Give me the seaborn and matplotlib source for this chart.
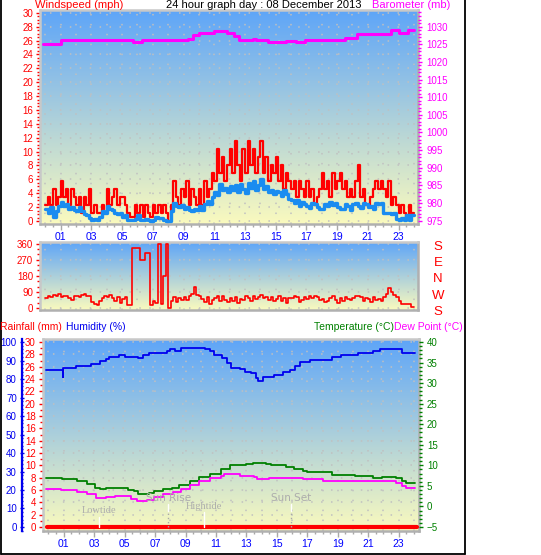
import numpy as np
import pandas as pd
import matplotlib
matplotlib.use("Agg")
import matplotlib.pyplot as plt
import seaborn as sns
from matplotlib.colors import LinearSegmentedColormap
from matplotlib.ticker import MultipleLocator
import matplotlib.transforms as mtransforms
from matplotlib.lines import Line2D

# ---------------- data ----------------
title = "24 hour graph day : 08 December 2013"
hour_labels = ["01", "03", "05", "07", "09", "11", "13", "15", "17", "19", "21", "23"]
sample_minutes = 10  # wind series are 10-minute samples starting at 00:00

wind_gust = [
    2.3, 3.5, 2.3, 4.6, 2.3, 3.5,
    5.8, 3.5, 4.6, 2.3, 4.6, 3.5,
    2.3, 3.5, 1.2, 3.5, 2.3, 4.6,
    1.2, 2.3, 1.2, 1.2, 2.3, 1.2,
    4.6, 2.3, 3.5, 4.6, 2.3, 3.5,
    3.5, 2.3, 1.2, 0.6, 0.6, 2.3,
    1.2, 2.3, 0.6, 2.3, 1.2, 0.6,
    2.3, 1.2, 2.3, 1.2, 2.3, 1.2,
    0.0, 2.3, 5.8, 3.5, 2.3, 4.6,
    3.5, 5.8, 2.3, 4.6, 3.5, 2.3,
    4.6, 2.3, 5.8, 3.5, 4.6, 6.9,
    5.8, 10.4, 6.9, 9.2, 5.8, 8.1,
    10.4, 6.9, 11.5, 8.1, 5.8, 10.4,
    6.9, 11.5, 8.1, 10.4, 6.9, 9.2,
    11.5, 6.9, 9.2, 5.8, 8.1, 6.9,
    9.2, 5.8, 8.1, 4.6, 6.9, 5.8,
    4.6, 5.8, 3.5, 5.8, 4.6, 3.5,
    5.8, 3.5, 4.6, 2.3, 3.5, 4.6,
    6.9, 4.6, 5.8, 3.5, 6.9, 4.6,
    5.8, 6.9, 4.6, 5.8, 3.5, 4.6,
    3.5, 5.8, 8.1, 3.5, 4.6, 2.3,
    2.3, 3.5, 4.6, 5.8, 4.6, 5.8,
    4.6, 3.5, 5.8, 2.3, 3.5, 2.3,
    1.2, 2.3, 1.2, 0.6, 2.3, 1.2,
]

wind_avg = [
    1.8, 1.2, 2.0, 0.6, 1.5, 2.2,
    2.8, 2.2, 2.5, 1.8, 2.0, 1.6,
    1.5, 2.0, 1.4, 1.0, 0.8, 0.4,
    0.2, 0.3, 0.2, 0.6, 1.5, 1.2,
    2.2, 1.8, 1.6, 1.2, 1.0, 1.1,
    0.6, 0.9, 0.2, 0.1, 0.1, 0.3,
    0.9, 0.2, 0.1, 0.3, 0.1, 0.0,
    0.2, 0.6, 0.5, 0.4, 0.2, 0.0,
    0.0, 1.5, 2.6, 2.2, 2.0, 2.3,
    1.8, 2.0, 1.6, 1.5, 1.8, 1.6,
    2.1, 1.6, 2.5, 2.9, 2.4, 3.4,
    4.2, 3.8, 5.4, 4.5, 4.8, 4.2,
    5.0, 4.5, 5.2, 4.2, 5.4, 4.6,
    4.0, 5.5, 4.8, 5.8, 4.5, 5.2,
    6.0, 4.6, 5.0, 4.2, 4.4, 3.9,
    4.3, 4.2, 3.6, 4.4, 3.9, 3.2,
    3.0, 2.6, 3.0, 2.2, 2.8, 2.4,
    2.2, 1.9, 2.6, 2.4, 2.0, 1.8,
    1.8, 2.5, 2.2, 2.8, 2.3, 2.6,
    2.0, 1.7, 1.7, 2.4, 2.2, 1.6,
    2.4, 2.6, 2.1, 1.9, 2.6, 2.4,
    2.0, 2.2, 1.8, 2.6, 2.4, 2.6,
    1.1, 1.1, 1.2, 1.0, 1.1, 0.3,
    0.2, 0.5, 0.2, 0.9, 0.2, 0.9,
]

wind_dir = [
    55, 70, 60, 75, 65, 80,
    60, 70, 65, 55, 45, 65,
    70, 60, 75, 80, 65, 70,
    35, 20, 15, 40, 55, 70,
    60, 75, 55, 40, 60, 30,
    50, 60, 15, 15, 335, 335,
    335, 270, 270, 310, 310, 15,
    40, 30, 360, 20, 180, 360,
    0, 40, 60, 35, 55, 45,
    60, 45, 70, 80, 120, 75,
    65, 50, 35, 60, 25, 45,
    55, 70, 40, 65, 45, 35,
    55, 40, 60, 30, 50, 45,
    65, 55, 40, 70, 50, 60,
    75, 55, 60, 45, 60, 40,
    50, 65, 40, 55, 30, 55,
    55, 70, 60, 35, 45, 60,
    50, 65, 55, 70, 60, 45,
    50, 35, 40, 55, 65, 45,
    30, 55, 40, 60, 50, 45,
    55, 65, 70, 60, 40, 55,
    50, 35, 60, 45, 50, 40,
    60, 80, 110, 90, 75, 60,
    40, 20, 20, 20, 25, 5,
]
dir_labels = ["S", "E", "N", "W", "S"]

baro_hours = [-0.15, 1.0, 5.7, 6.3, 9.3, 9.6, 10.0, 11.0, 11.8, 12.3, 12.6, 13.5, 13.7,
              14.5, 15.7, 16.3, 16.9, 19.5, 20.3, 22.5, 23.0, 23.6, 24.0]
baro_vals = [1025.2, 1026.2, 1025.5, 1026.2, 1026.6, 1027.6, 1028.1, 1028.8, 1028.3, 1027.2,
             1026.2, 1026.6, 1026.2, 1025.5, 1026.0, 1025.5, 1026.1, 1026.7, 1028.0, 1028.9,
             1028.1, 1028.9, 1028.9]

hum_hours = [-0.15, 0.93, 0.96, 1.8, 2.8, 3.4, 3.8, 4.0, 4.6, 5.0, 5.9, 6.2, 6.6, 7.8, 8.0,
             8.3, 8.7, 9.9, 10.3, 10.6, 10.9, 11.4, 11.7, 12.0, 12.6, 12.9, 13.3, 13.6, 13.75,
             14.1, 14.8, 15.4, 15.85, 16.2, 16.5, 17.2, 18.6, 19.2, 20.3, 21.3, 21.8, 22.8,
             23.2, 24.1]
hum_vals = [85.0, 81.0, 86.0, 87.2, 88.1, 90.0, 90.8, 91.9, 92.8, 91.9, 91.3, 92.8, 94.0, 95.3,
            96.2, 95.3, 96.8, 97.0, 96.2, 95.0, 93.1, 91.3, 88.6, 86.0, 85.6, 84.0, 83.2, 80.5,
            79.2, 81.0, 82.3, 83.8, 85.0, 86.8, 89.0, 90.4, 91.9, 92.8, 93.9, 95.0, 96.2, 96.2,
            94.0, 94.0]

temp_hours = [-0.15, 0.9, 1.85, 2.5, 3.05, 3.4, 3.8, 5.2, 5.6, 5.9, 6.6, 6.9, 7.5, 8.1, 8.6,
              9.3, 9.9, 10.6, 11.3, 11.9, 13.0, 13.4, 14.3, 14.6, 15.6, 16.1, 16.7, 17.0, 18.6,
              20.1, 21.3, 21.9, 22.8, 23.2, 23.5, 24.1]
temp_vals = [6.9, 6.6, 6.1, 5.5, 4.6, 4.3, 4.4, 4.0, 3.8, 3.0, 3.2, 3.8, 4.3, 4.4, 5.2, 6.3, 7.1,
             7.9, 9.1, 10.0, 10.3, 10.5, 10.3, 10.1, 9.7, 9.1, 8.6, 8.3, 7.7, 7.4, 7.0, 7.1, 6.9,
             6.3, 5.8, 5.7]

dew_hours = [-0.15, 0.85, 1.85, 2.5, 3.15, 3.8, 4.35, 4.9, 5.45, 5.8, 6.45, 6.9, 7.5, 8.2, 8.7,
             9.3, 9.9, 10.6, 11.3, 11.5, 12.6, 13.5, 13.7, 14.5, 15.4, 16.7, 18.0, 18.7, 19.1,
             20.9, 22.8, 23.2, 23.5, 24.1]
dew_vals = [4.3, 3.9, 3.4, 3.0, 2.0, 2.4, 2.6, 2.5, 1.8, 1.4, 1.6, 2.2, 3.0, 3.4, 4.2, 5.1, 6.1,
            6.9, 7.3, 7.8, 7.4, 7.1, 6.7, 6.9, 7.0, 6.6, 6.3, 6.1, 6.3, 6.1, 5.8, 5.0, 4.6, 4.4]

rain_hours = [-0.1, 24.2]
rain_vals = [0.0, 0.0]

events = ["Lowtide", "Sun Rise", "Hightide", "Sun Set"]
event_hours = [3.35, 7.87, 10.23, 15.92]

# ---------------- helpers ----------------
W, H = 541, 555
sns.set_theme(style="white")
plt.rcParams["font.family"] = ["Liberation Sans", "DejaVu Sans"]

fig = plt.figure(figsize=(W / 100, H / 100), dpi=100)
fig.patch.set_facecolor("white")


def rect(l, t, r, b):
    return [l / W, 1 - b / H, (r - l) / W, (b - t) / H]


grad_cmap = LinearSegmentedColormap.from_list("sky", ["#5ea5f8", "#fafabe"])
GRID = dict(color="#c0c0c0", linestyle=(0, (1, 5.5)), linewidth=1.1)


def background(ax, xlim, ylim):
    ax.imshow(np.linspace(0, 1, 256).reshape(-1, 1), cmap=grad_cmap, aspect="auto",
              extent=[xlim[0], xlim[1], ylim[0], ylim[1]], origin="upper", zorder=0)
    ax.set_xlim(*xlim)
    ax.set_ylim(*ylim)
    for k, s in ax.spines.items():
        s.set_color("#c8c8c8" if k in ("left", "top") else "#b0b0b0")
        s.set_linewidth(1.8)
    ax.set_xlabel("")
    ax.set_ylabel("")


def hour_axis(ax, show_labels):
    ax.set_xticks(range(1, 24, 2))
    ax.set_xticklabels(hour_labels if show_labels else [])
    ax.xaxis.set_minor_locator(MultipleLocator(0.5))
    ax.tick_params(axis="x", which="major", colors="#a8a8a8", labelcolor="#0000ff",
                   length=4, width=1, labelsize=7.5, pad=1.5, bottom=show_labels)
    ax.tick_params(axis="x", which="minor", colors="#a8a8a8", length=2, width=1,
                   bottom=show_labels)
    for h in range(0, 25):
        ax.axvline(h, zorder=0.5, **GRID)


def line(ax, x, y, color, lw, z=3):
    sns.lineplot(x=x, y=y, ax=ax, color=color, linewidth=lw, drawstyle="steps-post",
                 estimator=None, sort=False, legend=False, zorder=z)


t = np.arange(len(wind_gust)) * sample_minutes / 60.0
t_ext = np.append(t, 24.0)

# ---------------- panel 1: wind speed + barometer ----------------
ax1 = fig.add_axes(rect(40, 10, 418, 224))
xl1 = (-0.35, 24.27)
background(ax1, xl1, (-0.43, 30.4))
hour_axis(ax1, True)
for yv in range(0, 31, 2):
    ax1.axhline(yv, zorder=0.5, **GRID)
line(ax1, t_ext, wind_gust + [wind_gust[-1]], "#ff0000", 1.6, 3)
line(ax1, t_ext, wind_avg + [wind_avg[-1]], "#1a8cf0", 2.4, 4)
background(ax1, xl1, (-0.43, 30.4))
ax1.yaxis.set_major_locator(MultipleLocator(2))
ax1.yaxis.set_minor_locator(MultipleLocator(0.5))
ax1.tick_params(axis="y", which="major", colors="#ff0000", labelsize=7, length=3, width=1,
                pad=2, left=True)
ax1.tick_params(axis="y", which="minor", colors="#ff0000", length=2, width=1, left=True)

axb = ax1.twinx()
line(axb, baro_hours, baro_vals, "#ff00ff", 2.2, 5)
axb.set_xlim(*xl1)
axb.set_ylim(974.06, 1034.7)
axb.set_ylabel("")
axb.yaxis.set_major_locator(MultipleLocator(5))
axb.yaxis.set_minor_locator(MultipleLocator(1))
axb.tick_params(axis="y", which="major", colors="#ff00ff", labelsize=7, length=3, width=1,
                pad=3, right=True)
axb.tick_params(axis="y", which="minor", colors="#ff00ff", length=2, width=1, right=True)
for s in axb.spines.values():
    s.set_visible(False)

fig.text(35 / W, 1 - 5 / H, "Windspeed (mph)", color="#ff0000", fontsize=8, va="center", ha="left")
fig.text(264 / W, 1 - 5 / H, title, color="black", fontsize=8, va="center", ha="center")
fig.text(372 / W, 1 - 5 / H, "Barometer (mb)", color="#ff00ff", fontsize=8, va="center", ha="left")

# ---------------- panel 2: wind direction ----------------
ax2 = fig.add_axes(rect(40, 242, 418, 310))
background(ax2, xl1, (-11, 369))
hour_axis(ax2, False)
for yv in range(0, 361, 90):
    ax2.axhline(yv, zorder=0.5, **GRID)
line(ax2, t_ext, wind_dir + [wind_dir[-1]], "#ff0000", 1.2, 3)
background(ax2, xl1, (-11, 369))
ax2.yaxis.set_major_locator(MultipleLocator(90))
ax2.yaxis.set_minor_locator(MultipleLocator(30))
ax2.tick_params(axis="y", which="major", colors="#ff0000", labelsize=7, length=3, width=1, pad=2, left=True)
ax2.tick_params(axis="y", which="minor", colors="#ff0000", length=2, width=1, left=True)
trans2 = mtransforms.blended_transform_factory(ax2.transAxes, ax2.transData)
for lab, yv in zip(dir_labels, [360, 270, 180, 90, 0]):
    ax2.text((438 - 40) / 378, yv - 20, lab, transform=trans2, color="#ff0000", fontsize=9.5,
             ha="center", va="center", clip_on=False)

# ---------------- panel 3: rain / humidity / temperature / dew ----------------
ax3 = fig.add_axes(rect(42.7, 339.3, 418.5, 531))
xl3 = (-0.38, 24.3)
rl = (-0.65, 30.44)
background(ax3, xl3, rl)
hour_axis(ax3, True)
for yv in range(0, 31, 2):
    ax3.axhline(yv, zorder=0.5, **GRID)
line(ax3, rain_hours, rain_vals, "#ff0000", 3.0, 6)
background(ax3, xl3, rl)
ax3.yaxis.set_major_locator(MultipleLocator(2))
ax3.yaxis.set_minor_locator(MultipleLocator(1))
ax3.tick_params(axis="y", which="major", colors="#ff0000", labelsize=7, length=3, width=1, pad=2, left=True)
ax3.tick_params(axis="y", which="minor", colors="#ff0000", length=2, width=1, left=True)

axt = ax3.twinx()
line(axt, temp_hours, temp_vals, "#008000", 1.3, 5)
line(axt, dew_hours, dew_vals, "#ff00ff", 1.3, 5)
axt.set_xlim(*xl3)
axt.set_ylim(-5.97, 40.66)
axt.set_ylabel("")
axt.yaxis.set_major_locator(MultipleLocator(5))
axt.yaxis.set_minor_locator(MultipleLocator(1))
axt.tick_params(axis="y", which="major", colors="#008000", labelsize=7, length=3, width=1, pad=3, right=True)
axt.tick_params(axis="y", which="minor", colors="#008000", length=2, width=1, right=True)
for s in axt.spines.values():
    s.set_visible(False)

axh = ax3.twinx()
line(axh, hum_hours, hum_vals, "#0000ee", 1.3, 5)
axh.set_xlim(*xl3)
axh.set_ylim(-2.17, 101.5)
axh.set_ylabel("")
axh.yaxis.tick_left()
axh.yaxis.set_label_position("left")
for k, s in axh.spines.items():
    s.set_visible(k == "left")
axh.spines["left"].set_position(("axes", -0.056))
axh.spines["left"].set_color("#0000ee")
axh.spines["left"].set_linewidth(1.6)
axh.yaxis.set_major_locator(MultipleLocator(10))
axh.yaxis.set_minor_locator(MultipleLocator(2))
axh.tick_params(axis="y", which="major", colors="#0000ee", labelsize=7, length=3, width=1,
                pad=2, left=True, right=False, direction="inout")
axh.tick_params(axis="y", which="minor", colors="#0000ee", length=2, width=1, left=True,
                right=False, direction="inout")

# event markers (drawn on the top-most axes, in rainfall units)
trans_ev = ax3.transData
for name, hr in zip(events, event_hours):
    if name.startswith("Sun"):
        axh.plot([hr, hr], [0, 2.6], color="#a8a8a8", linestyle=(0, (1, 2)), lw=1, zorder=7,
                 transform=trans_ev)
        axh.plot([hr, hr], [2.6, 3.7], color="white", lw=1, zorder=7, transform=trans_ev)
        axh.text(hr, 4.7, name, color="#acacac", fontsize=7.5, ha="center", va="center",
                 family=["DejaVu Sans"], zorder=8, transform=trans_ev)
    else:
        top = 1.7 if name == "Lowtide" else 2.5
        ty = 2.6 if name == "Lowtide" else 3.4
        axh.plot([hr, hr], [0, top], color="white", lw=1, zorder=7, transform=trans_ev)
        axh.text(hr, ty, name, color="#acacac", fontsize=7.5, ha="center", va="center",
                 family=["Liberation Serif", "DejaVu Serif"], zorder=8, transform=trans_ev)

hy = 1 - 327 / H
fig.text(0.5 / W, hy, "Rainfall (mm)", color="#ff0000", fontsize=7.5, va="center", ha="left")
fig.text(66 / W, hy, "Humidity (%)", color="#0000ee", fontsize=7.5, va="center", ha="left")
fig.text(394 / W, hy, "Temperature (°C)", color="#008000", fontsize=7.5, va="center", ha="right")
fig.text(394 / W, hy, "Dew Point (°C)", color="#ff00ff", fontsize=7.5, va="center", ha="left")

# outer frame lines (left, right, bottom)
for xs, ys in [([0.5, 0.5], [0, 554]), ([465, 465], [0, 554]), ([0.5, 465], [553.5, 553.5])]:
    fig.add_artist(Line2D([x / W for x in xs], [1 - y / H for y in ys], color="black", lw=1.3,
                          transform=fig.transFigure))

fig.savefig("out.png", dpi=100, facecolor="white")
